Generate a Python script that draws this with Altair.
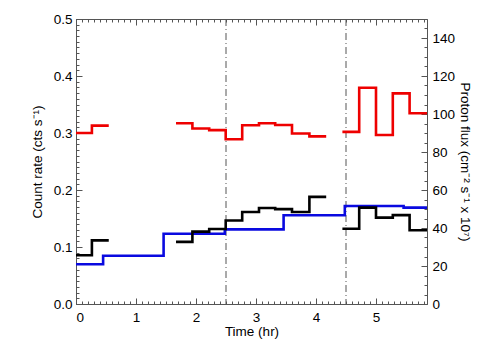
import altair as alt
import pandas as pd

# ---- data ----
# bin edges (hr) for the red/black count-rate series, three contiguous groups
cr_edges = [
    [0.0, 0.265, 0.546],
    [1.667, 1.94, 2.22, 2.495, 2.77, 3.05, 3.32, 3.60, 3.89, 4.17],
    [4.44, 4.72, 5.0, 5.28, 5.56, 5.85],
]
red_vals = [
    [0.300, 0.313],
    [0.317, 0.308, 0.305, 0.289, 0.3135, 0.317, 0.314, 0.299, 0.294],
    [0.302, 0.3795, 0.2965, 0.3696, 0.3346],
]
black_vals = [
    [0.0854, 0.1117],
    [0.109, 0.127, 0.1316, 0.1465, 0.1614, 0.1684, 0.1665, 0.1614, 0.188],
    [0.132, 0.169, 0.1515, 0.156, 0.1293],
]
# proton flux (cm^-2 s^-1 x 10^7), hourly-ish bins
pf_edges = [[0.0, 0.452, 1.46, 2.48, 3.46, 4.48, 5.46, 5.85]]
pf_vals = [[20.9, 25.4, 37.0, 39.3, 46.7, 51.6, 50.7]]
event_times = [2.5, 4.5]

x_major = [0, 1, 2, 3, 4, 5]
x_minor = [round(i * 0.1, 1) for i in range(59)]
y_major = [0.0, 0.1, 0.2, 0.3, 0.4, 0.5]
y_minor = [round(i * 0.01, 2) for i in range(51)]
r_major = [0, 20, 40, 60, 80, 100, 120, 140]
r_minor = list(range(0, 151, 5))


def steps(edges, vals):
    rows = []
    for g, (e, v) in enumerate(zip(edges, vals)):
        for i, val in enumerate(v):
            rows.append({"t": e[i], "v": val, "g": g})
        rows.append({"t": e[-1], "v": v[-1], "g": g})
    return pd.DataFrame(rows)


red_df = steps(cr_edges, red_vals)
black_df = steps(cr_edges, black_vals)
pf_df = steps(pf_edges, pf_vals)
ev_df = pd.DataFrame({"t": event_times})

FONT = "Liberation Sans"
FS = 13.5
TC = "#555555"

xs = alt.Scale(domain=[0, 5.85], nice=False, zero=False)
ys = alt.Scale(domain=[0, 0.5], nice=False, zero=False)
rs = alt.Scale(domain=[0, 150], nice=False, zero=False)


def ax(orient, values, size, labels=False, **kw):
    return alt.Axis(orient=orient, values=values, tickSize=size, offset=-size,
                    domain=False, grid=False, labels=labels, tickColor=TC,
                    tickWidth=1, labelFont=FONT, labelFontSize=FS,
                    labelColor="black", titleFont=FONT, titleFontSize=FS,
                    titleFontWeight="normal", titleColor="black", **kw)


red = alt.Chart(red_df).mark_line(interpolate="step-after", color="#ee0000", strokeWidth=2.6).encode(
    x=alt.X("t:Q", scale=xs, axis=ax("bottom", x_major, 6, labels=True, format="d",
                                        labelPadding=6, title="Time (hr)", titlePadding=1)),
    y=alt.Y("v:Q", scale=ys, axis=ax("left", y_major, 6, labels=True, format=".1f",
                                        labelPadding=4, title="Count rate (cts  s⁻¹)", titlePadding=9)),
    detail="g:N",
)
black = alt.Chart(black_df).mark_line(interpolate="step-after", color="black", strokeWidth=2.6).encode(
    x=alt.X("t:Q", scale=xs, axis=ax("bottom", x_minor, 3, title=None)),
    y=alt.Y("v:Q", scale=ys, axis=ax("left", y_minor, 3, title=None)),
    detail="g:N",
)
blue = alt.Chart(pf_df).mark_line(interpolate="step-after", color="#0a0ae0", strokeWidth=2.6).encode(
    x=alt.X("t:Q", scale=xs, axis=ax("top", x_major, 6, title=None)),
    y=alt.Y("v:Q", scale=rs, axis=ax("right", r_major, 6, labels=True, format="d",
                                        labelPadding=5, title="Proton flux (cm⁻² s⁻¹ x 10⁷)",
                                        titlePadding=3)),
    detail="g:N",
)
ghost = alt.Chart(pf_df).mark_line(strokeOpacity=0).encode(
    x=alt.X("t:Q", scale=xs, axis=ax("top", x_minor, 3, title=None)),
    y=alt.Y("v:Q", scale=rs, axis=ax("right", r_minor, 3, title=None)),
)
events = alt.Chart(ev_df).mark_rule(color="#555555", strokeWidth=1, strokeDash=[7, 3, 1, 3]).encode(
    x=alt.X("t:Q", scale=xs, axis=None),
)

chart = (
    alt.layer(events, blue, black, red, ghost)
    .resolve_scale(x="independent", y="independent")
    .resolve_axis(x="independent", y="independent")
    .properties(width=351, height=285,
                autosize=alt.AutoSizeParams(type="none"),
                padding={"left": 68, "top": 11, "right": 69, "bottom": 48},
                background="white")
    .configure_view(stroke=TC, strokeWidth=1)
)

chart.save("out.html", embed_options={"renderer": "svg", "actions": False})
